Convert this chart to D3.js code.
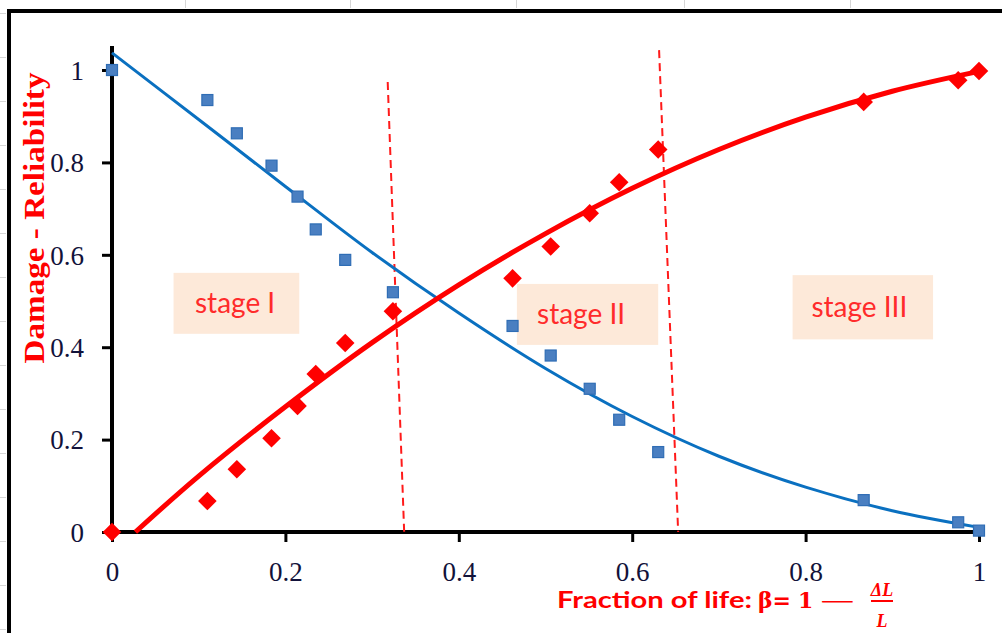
<!DOCTYPE html>
<html>
<head>
<meta charset="utf-8">
<script src="https://cdn.jsdelivr.net/npm/d3@7/dist/d3.min.js"></script>
<style>
  html, body { margin: 0; padding: 0; background: #ffffff; }
  svg { display: block; }
</style>
</head>
<body>
<svg id="chart" width="1002" height="633"></svg>
<script>
// ---------------- data ----------------
const fractionOfLife = [0, 0.110, 0.144, 0.184, 0.214, 0.235, 0.269, 0.324, 0.462, 0.506, 0.551, 0.585, 0.630, 0.867, 0.976, 1.0];
const reliability    = [1.0, 0.935, 0.863, 0.793, 0.726, 0.655, 0.589, 0.519, 0.446, 0.382, 0.310, 0.243, 0.173, 0.069, 0.021, 0.003];
const damage         = [0, 0.067, 0.136, 0.203, 0.273, 0.342, 0.409, 0.478, 0.549, 0.618, 0.690, 0.757, 0.828, 0.931, 0.978, 0.998];

// trend-line points
const reliabilityFitX = [0, 0.1, 0.2, 0.3, 0.4, 0.5, 0.6, 0.7, 0.8, 0.9, 1.0];
const reliabilityFitY = [1.037, 0.893, 0.748, 0.605, 0.474, 0.354, 0.250, 0.164, 0.097, 0.046, 0.010];
const damageFitX = [0.027, 0.1, 0.2, 0.3, 0.4, 0.5, 0.6, 0.7, 0.8, 0.9, 1.0];
const damageFitY = [0, 0.121, 0.271, 0.410, 0.535, 0.646, 0.744, 0.828, 0.898, 0.954, 0.997];

const xTicks = [0, 0.2, 0.4, 0.6, 0.8, 1];
const yTicks = [0, 0.2, 0.4, 0.6, 0.8, 1];

// stage separators (dashed lines) : [x at top, y at top, x at bottom, y at bottom]
const stageLines = [[0.318, 0.974, 0.337, 0], [0.631, 1.043, 0.653, 0]];
// stage labels: text, box x0, x1, y-top, y-bottom (data units)
const stageNames = ["stage I", "stage II", "stage III"];
const stageBoxX0 = [0.071, 0.467, 0.785];
const stageBoxX1 = [0.216, 0.630, 0.947];
const stageBoxYTop = [0.561, 0.537, 0.556];
const stageBoxYBot = [0.429, 0.405, 0.417];
const stageTextX = [0.142, 0.541, 0.862];

// ---------------- drawing ----------------
const svg = d3.select("#chart");
const x = d3.scaleLinear().domain([0, 1]).range([112, 979]);
const y = d3.scaleLinear().domain([0, 1.052]).range([532, 46]);

// spreadsheet background remnants
const grid = svg.append("g").attr("stroke", "#d6d6d6").attr("stroke-width", 1);
[185, 350, 516, 684, 850].forEach(cx => grid.append("line").attr("x1", cx + 0.5).attr("x2", cx + 0.5).attr("y1", 0).attr("y2", 8));
d3.range(13, 633, 44).forEach(ry => grid.append("line").attr("x1", 0).attr("x2", 6).attr("y1", ry + 0.5).attr("y2", ry + 0.5));

// chart frame (top & left edges visible)
svg.append("path")
  .attr("d", "M9,633 L9,11 L1002,11")
  .attr("fill", "none").attr("stroke", "#000").attr("stroke-width", 4);

// stage boxes
const boxes = svg.append("g");
stageNames.forEach((name, i) => {
  boxes.append("rect")
    .attr("x", x(stageBoxX0[i])).attr("y", y(stageBoxYTop[i]))
    .attr("width", x(stageBoxX1[i]) - x(stageBoxX0[i]))
    .attr("height", y(stageBoxYBot[i]) - y(stageBoxYTop[i]))
    .attr("fill", "#fde9d9");
  boxes.append("text")
    .attr("x", x(stageTextX[i]))
    .attr("y", (y(stageBoxYTop[i]) + y(stageBoxYBot[i])) / 2 + 10)
    .attr("text-anchor", "middle")
    .attr("font-family", "Lato, 'Open Sans', sans-serif")
    .attr("font-size", 28)
    .attr("fill", "#ff2b2b")
    .text(name);
});

// axes
const xAxis = d3.axisBottom(x).tickValues(xTicks).tickSize(10).tickFormat(d3.format("~g"));
const yAxis = d3.axisLeft(y).tickValues(yTicks).tickSize(10).tickFormat(d3.format("~g"));

const gx = svg.append("g").attr("transform", "translate(0,532)").call(xAxis);
const gy = svg.append("g").attr("transform", "translate(112,0)").call(yAxis);

[gx, gy].forEach(g => {
  g.select(".domain").remove();
  g.selectAll(".tick line").attr("stroke", "#000").attr("stroke-width", 3);
  g.selectAll(".tick text")
    .attr("font-family", "'Liberation Serif', 'Times New Roman', serif")
    .attr("font-size", 27)
    .attr("fill", "#12123a");
});
gx.selectAll(".tick text").attr("dy", null).attr("y", 49);
gy.selectAll(".tick text").attr("x", -28).attr("dy", "0.34em");

// axis lines
svg.append("line").attr("x1", 112).attr("x2", 112).attr("y1", y(1.052)).attr("y2", 534)
  .attr("stroke", "#000").attr("stroke-width", 4);
svg.append("line").attr("x1", 110).attr("x2", x(1) + 4).attr("y1", 532).attr("y2", 532)
  .attr("stroke", "#000").attr("stroke-width", 4);

// dashed stage separators
svg.append("g").selectAll("line").data(stageLines).join("line")
  .attr("x1", d => x(d[0])).attr("y1", d => y(d[1]))
  .attr("x2", d => x(d[2])).attr("y2", d => y(d[3]))
  .attr("stroke", "#ff1a1a").attr("stroke-width", 2)
  .attr("stroke-dasharray", "8,5");

// trend lines
const line = d3.line().x(d => x(d[0])).y(d => y(d[1])).curve(d3.curveCatmullRom);
svg.append("path")
  .datum(reliabilityFitX.map((v, i) => [v, reliabilityFitY[i]]))
  .attr("d", line).attr("fill", "none").attr("stroke", "#0a70c0").attr("stroke-width", 3);
svg.append("path")
  .datum(damageFitX.map((v, i) => [v, damageFitY[i]]))
  .attr("d", line).attr("fill", "none").attr("stroke", "#ff0000").attr("stroke-width", 5);

// markers
const sq = 11;
svg.append("g").selectAll("rect").data(fractionOfLife.map((v, i) => [v, reliability[i]])).join("rect")
  .attr("x", d => x(d[0]) - sq / 2).attr("y", d => y(d[1]) - sq / 2)
  .attr("width", sq).attr("height", sq)
  .attr("fill", "#4a7fc1").attr("stroke", "#2f6db5").attr("stroke-width", 1.2);

const diamond = d3.symbol().type(d3.symbolDiamond2).size(220);
svg.append("g").selectAll("path").data(fractionOfLife.map((v, i) => [v, damage[i]])).join("path")
  .attr("transform", d => `translate(${x(d[0])},${y(d[1])})`)
  .attr("d", diamond)
  .attr("fill", "#ff0000");

// y-axis title
svg.append("text")
  .attr("transform", "translate(44,218) rotate(-90)")
  .attr("text-anchor", "middle")
  .attr("font-family", "'Liberation Serif', 'Times New Roman', serif")
  .attr("font-weight", "bold")
  .attr("font-size", 30)
  .attr("fill", "#ff0000")
  .attr("textLength", 291).attr("lengthAdjust", "spacingAndGlyphs")
  .text("Damage - Reliability");

// x-axis title
const red = "#ff0000";
svg.append("text").attr("x", 557).attr("y", 608)
  .attr("font-family", "Lato, 'Open Sans', sans-serif").attr("font-weight", "bold")
  .attr("font-size", 23).attr("fill", red)
  .attr("textLength", 195).attr("lengthAdjust", "spacingAndGlyphs")
  .text("Fraction of life:");
svg.append("text").attr("x", 758).attr("y", 608)
  .attr("font-family", "'DejaVu Serif', serif").attr("font-weight", "bold")
  .attr("font-size", 22).attr("fill", red)
  .attr("textLength", 33).attr("lengthAdjust", "spacingAndGlyphs")
  .text("β=");
svg.append("text").attr("x", 798).attr("y", 608)
  .attr("font-family", "'DejaVu Serif', serif").attr("font-weight", "bold")
  .attr("font-size", 22).attr("fill", red)
  .text("1");
svg.append("text").attr("x", 817).attr("y", 608)
  .attr("font-family", "'DejaVu Sans', sans-serif")
  .attr("font-size", 20).attr("fill", red)
  .attr("textLength", 41).attr("lengthAdjust", "spacingAndGlyphs")
  .text("−");

const fx = 882;
svg.append("text").attr("x", fx).attr("y", 596).attr("text-anchor", "middle")
  .attr("font-family", "'Liberation Serif', serif").attr("font-style", "italic").attr("font-weight", "bold")
  .attr("font-size", 18).attr("fill", red).text("ΔL");
svg.append("line").attr("x1", fx - 11).attr("x2", fx + 11).attr("y1", 601).attr("y2", 601)
  .attr("stroke", red).attr("stroke-width", 2);
svg.append("text").attr("x", fx).attr("y", 627).attr("text-anchor", "middle")
  .attr("font-family", "'Liberation Serif', serif").attr("font-style", "italic").attr("font-weight", "bold")
  .attr("font-size", 18).attr("fill", red).text("L");
</script>
</body>
</html>
